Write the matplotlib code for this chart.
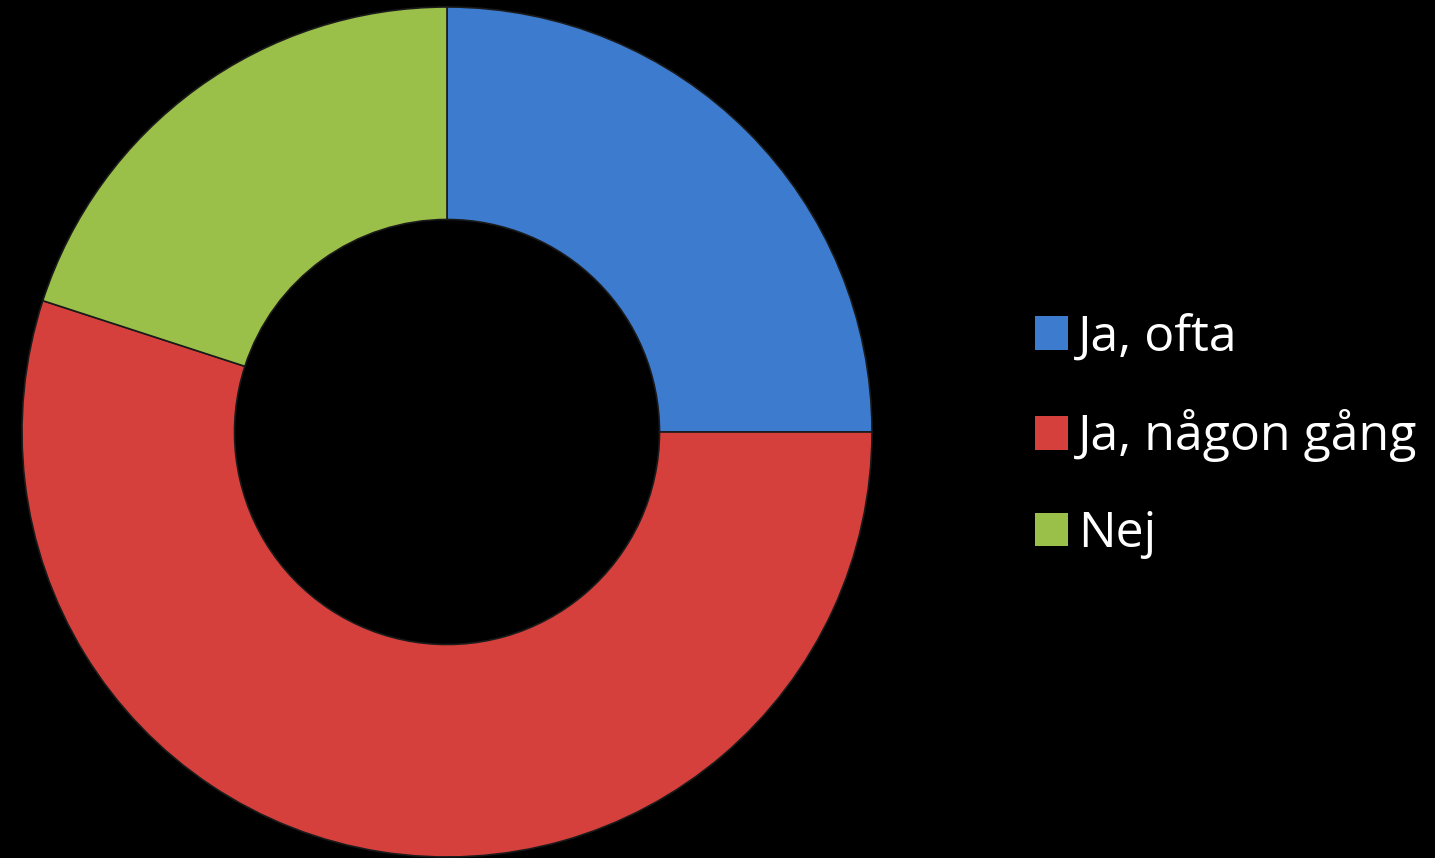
import matplotlib.pyplot as plt

labels = ['Ja, ofta', 'Ja, någon gång', 'Nej']
values = [25, 55, 20]
colors = ['#3d7bcf', '#d6403c', '#9ac04a']

W, H = 1435, 858
fig = plt.figure(figsize=(W / 100, H / 100), dpi=100)
fig.patch.set_facecolor('black')

# donut centre ~ (447, 432) px, outer radius ~ 425 px
cx, cy, r = 447, 432, 425
ax = fig.add_axes([(cx - r) / W, (H - cy - r) / H, 2 * r / W, 2 * r / H])
ax.set_facecolor('black')

wedges, _ = ax.pie(values, colors=colors, startangle=90, counterclock=False,
                   radius=1.0,
                   wedgeprops=dict(width=0.5, edgecolor='#1a1a1a', linewidth=1.2))
ax.set_xlim(-1, 1)
ax.set_ylim(-1, 1)
ax.set_aspect('equal')
ax.axis('off')

leg = fig.legend(wedges, labels, loc='upper left',
                 bbox_to_anchor=(1035 / W, 1 - 313 / H),
                 frameon=False, labelcolor='white',
                 handlelength=0.66, handleheight=0.66, handletextpad=0.2,
                 labelspacing=0.94, borderaxespad=0, borderpad=0,
                 prop={'family': 'Open Sans', 'size': 36})
for h in leg.legend_handles:
    h.set_linewidth(0)

fig.savefig('out.png', dpi=100, facecolor='black')
